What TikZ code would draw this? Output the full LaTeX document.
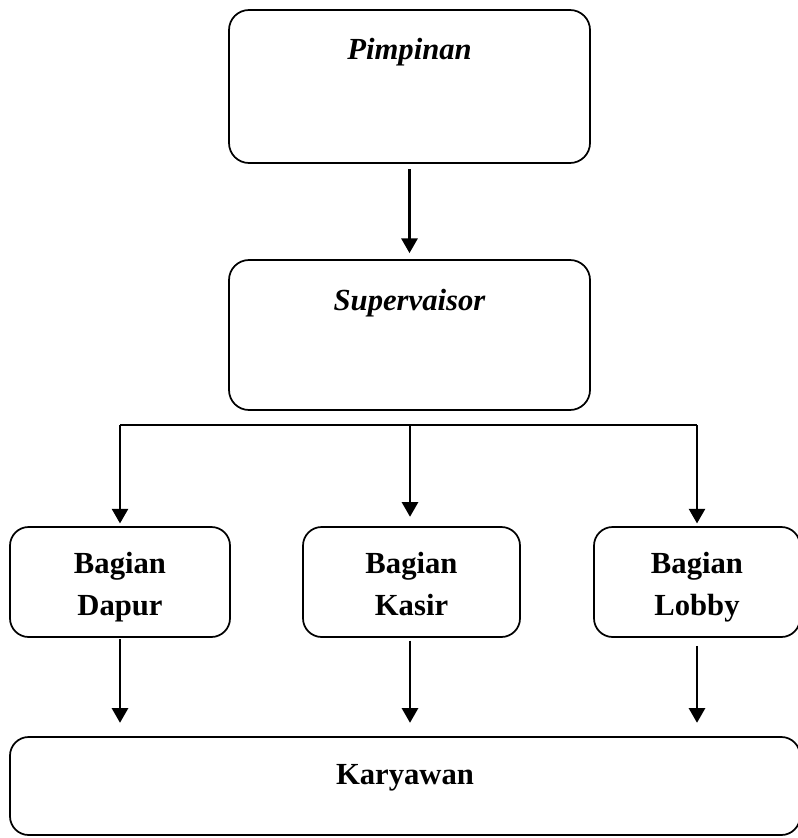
\documentclass[tikz,border=0pt]{standalone}
\usepackage{fontspec}
\setmainfont{Liberation Serif}
\usetikzlibrary{arrows.meta,positioning}

\tikzset{
  kotak/.style={draw, rounded corners=15pt, line width=1.3pt, inner sep=0pt},
  teks/.style={inner sep=0pt, align=center, anchor=north, font=\fontsize{23}{31.5}\selectfont\bfseries},
  panah/.style={-{Triangle[width=12pt,length=11pt]}, line width=2pt},
  garis/.style={line width=1.4pt}
}

\begin{document}
\begin{tikzpicture}[x=0.75pt,y=0.75pt,yscale=-1,xscale=1]
    \clip (0,0) rectangle (798,838);
    
    % Boxes
    \node [kotak, minimum width=270.75pt, minimum height=114.75pt] (pimpinan) at (409.5,86.5) {};
    \node [kotak, minimum width=270.75pt, minimum height=112.5pt] (supervaisor) at (409.5,335) {};
    \node [kotak, rounded corners=14pt, minimum width=165pt, minimum height=82.5pt] (dapur) at (120,582) {};
    \node [kotak, rounded corners=14pt, minimum width=162.75pt, minimum height=82.5pt] (kasir) at (411.5,582) {};
    \node [kotak, rounded corners=14pt, minimum width=154.5pt, minimum height=82.5pt] (lobby) at (697,582) {};
    \node [kotak, rounded corners=14pt, minimum width=592.5pt, minimum height=73.5pt] (karyawan) at (405,786) {};
    
    % Text Node
    \node [teks] (pimpinan-t) at ([yshift=21.75pt]pimpinan.north) {\itshape Pimpinan};
    % Text Node
    \node [teks] (supervaisor-t) at ([yshift=22.5pt]supervaisor.north) {\itshape Supervaisor};
    % Text Node
    \node [teks] (dapur-t) at ([yshift=19pt]dapur.north) {Bagian\\Dapur};
    % Text Node
    \node [teks] (kasir-t) at ([yshift=19pt]kasir.north) {Bagian\\Kasir};
    % Text Node
    \node [teks] (lobby-t) at ([yshift=19pt]lobby.north) {Bagian\\Lobby};
    % Text Node
    \node [teks] (karyawan-t) at ([yshift=21pt]karyawan.north) {Karyawan};
    
    % Arrows
    \draw [panah, shorten <=4pt, shorten >=4.5pt] (pimpinan.south) -- (supervaisor.north);
    
    \coordinate (cabang) at (410,425);
    \draw [garis] (dapur.north |- cabang) -- (lobby.north |- cabang);
    \draw [panah, shorten >=2pt] (dapur.north |- cabang) -- (dapur.north);
    \draw [panah, shorten >=7pt] (cabang) -- (cabang |- kasir.north);
    \draw [panah, shorten >=2pt] (lobby.north |- cabang) -- (lobby.north);
    
    \draw [panah, shorten <=1pt, shorten >=10pt] (dapur.south) -- (dapur.south |- karyawan.north);
    \draw [panah, shorten <=2pt, shorten >=10pt] (cabang |- kasir.south) -- (cabang |- karyawan.north);
    \draw [panah, shorten <=6pt, shorten >=10pt] (lobby.south) -- (lobby.south |- karyawan.north);
    
\end{tikzpicture}
\end{document}
